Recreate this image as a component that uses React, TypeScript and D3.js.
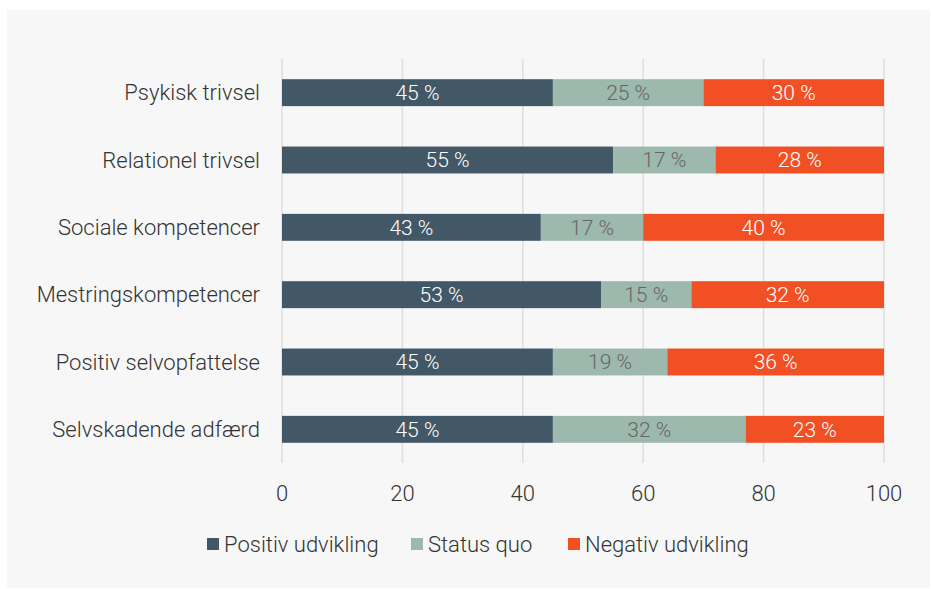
import React from "react";
import * as d3 from "d3";

const categories = [
  "Psykisk trivsel",
  "Relationel trivsel",
  "Sociale kompetencer",
  "Mestringskompetencer",
  "Positiv selvopfattelse",
  "Selvskadende adfærd",
];
const positiv = [45, 55, 43, 53, 45, 45];
const statusQuo = [25, 17, 17, 15, 19, 32];
const negativ = [30, 28, 40, 32, 36, 23];
const seriesNames = ["Positiv udvikling", "Status quo", "Negativ udvikling"];
const seriesColors = ["#435866", "#9db8ad", "#f15025"];
const labelColors = ["#ffffff", "#666666", "#ffffff"];
const xTicks = [0, 20, 40, 60, 80, 100];

const W = 931;
const H = 589;
const FONT = "Roboto, 'Liberation Sans', Arial, sans-serif";

export default function App() {
  const x = d3.scaleLinear().domain([0, 100]).range([282, 884]);
  const y = d3.scaleBand().domain(categories).range([59, 463]).paddingInner(0.6).paddingOuter(0.3);

  const rows = categories.map((c, i) => ({ cat: c, vals: [positiv[i], statusQuo[i], negativ[i]] }));
  const stack = d3.stack<any>().keys(["0", "1", "2"]).value((d: any, k: string) => d.vals[+k]);
  const stacked = stack(rows as any);

  const legendItems = [
    { sq: 207, tx: 224 },
    { sq: 411, tx: 428 },
    { sq: 568, tx: 585 },
  ];

  return (
    <svg width={W} height={H} style={{ position: "absolute", left: 0, top: 0, display: "block" }} fontFamily={FONT}>
      <rect x={0} y={0} width={W} height={H} fill="#ffffff" />
      <rect x={7} y={10} width={923} height={578} fill="#f7f7f7" />
      {xTicks.map((t) => (
        <line key={t} x1={x(t)} x2={x(t)} y1={59} y2={463} stroke="#dedede" strokeWidth={1.5} />
      ))}
      {stacked.map((s, si) => (
        <g key={si}>
          {s.map((d: any, i: number) => {
            const cat = categories[i];
            const x0 = x(d[0]);
            const x1 = x(d[1]);
            const yy = y(cat)!;
            return (
              <g key={cat}>
                <rect x={x0} y={yy} width={x1 - x0} height={y.bandwidth()} fill={seriesColors[si]} />
                <text
                  x={(x0 + x1) / 2}
                  y={yy + y.bandwidth() / 2}
                  dy="0.35em"
                  textAnchor="middle"
                  fontSize={21}
                  fontWeight={300}
                  fill={labelColors[si]}
                >
                  {`${d[1] - d[0]} %`}
                </text>
              </g>
            );
          })}
        </g>
      ))}
      {categories.map((c) => (
        <text
          key={c}
          x={260}
          y={y(c)! + y.bandwidth() / 2}
          dy="0.35em"
          textAnchor="end"
          fontSize={22}
          fontWeight={300}
          fill="#333333"
        >
          {c}
        </text>
      ))}
      {xTicks.map((t) => (
        <text key={t} x={x(t)} y={493} dy="0.35em" textAnchor="middle" fontSize={22} fontWeight={300} fill="#333333">
          {t}
        </text>
      ))}
      {seriesNames.map((n, i) => (
        <g key={n}>
          <rect x={legendItems[i].sq} y={538} width={12} height={12} fill={seriesColors[i]} />
          <text x={legendItems[i].tx} y={544} dy="0.35em" fontSize={22} fontWeight={300} fill="#333333">
            {n}
          </text>
        </g>
      ))}
    </svg>
  );
}
